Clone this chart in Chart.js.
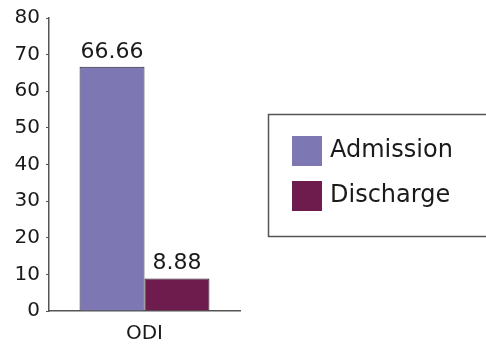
<!DOCTYPE html>
<html>
<head>
<meta charset="utf-8">
<script src="https://cdn.jsdelivr.net/npm/chart.js@4/dist/chart.umd.min.js"></script>
<style>
  html, body { margin: 0; padding: 0; background: #fff; }
  #wrap { width: 486px; height: 346px; }
</style>
</head>
<body>
<div id="wrap"><canvas id="odiChart"></canvas></div>
<script>
// ODI scores at admission and discharge
const categories = ['ODI'];
const seriesNames = ['Admission', 'Discharge'];
const admission = [66.66];
const discharge = [8.88];
const yTicks = [0, 10, 20, 30, 40, 50, 60, 70, 80];

const colors = ['#7d77b4', '#6e1b4d'];
const FONT = "'DejaVu Sans', sans-serif";
const TEXT = '#1a1a1a';

// value labels above each bar
const valueLabels = {
    id: 'valueLabels',
    afterDatasetsDraw(chart) {
        const ctx = chart.ctx;
        ctx.save();
        ctx.font = '22px ' + FONT;
        ctx.fillStyle = TEXT;
        ctx.textAlign = 'center';
        ctx.textBaseline = 'alphabetic';
        chart.data.datasets.forEach((ds, i) => {
            chart.getDatasetMeta(i).data.forEach((bar, j) => {
                ctx.fillText(ds.data[j].toFixed(2), bar.x, bar.y - 9);
            });
        });
        ctx.restore();
    }
};

// boxed legend on the right
const boxLegend = {
    id: 'boxLegend',
    afterDraw(chart) {
        const ctx = chart.ctx;
        ctx.save();
        ctx.strokeStyle = '#555';
        ctx.lineWidth = 1.5;
        ctx.strokeRect(268.5, 114.5, 230, 122);
        ctx.font = '24px ' + FONT;
        ctx.textBaseline = 'middle';
        chart.data.datasets.forEach((ds, i) => {
            const y = 136 + i * 45;
            ctx.fillStyle = ds.backgroundColor;
            ctx.fillRect(292, y, 30, 30);
            ctx.fillStyle = TEXT;
            ctx.fillText(ds.label, 330, y + 15);
        });
        ctx.restore();
    }
};

new Chart(document.getElementById('odiChart'), {
    type: 'bar',
    data: {
        labels: categories,
        datasets: [
            { label: seriesNames[0], data: admission, backgroundColor: colors[0] },
            { label: seriesNames[1], data: discharge, backgroundColor: colors[1] }
        ]
    },
    options: {
        responsive: true,
        maintainAspectRatio: false,
        animation: false,
        layout: { padding: { top: 18, right: 246, bottom: 0, left: 0 } },
        datasets: {
            bar: {
                barPercentage: 1,
                categoryPercentage: 0.68,
                borderWidth: 1,
                borderColor: '#2a2228'
            }
        },
        plugins: {
            legend: { display: false },
            tooltip: { enabled: false }
        },
        scales: {
            x: {
                grid: { display: false, drawTicks: false },
                border: { color: '#555', width: 1.5 },
                ticks: { color: TEXT, font: { family: FONT, size: 20 }, padding: 11 },
                afterFit(scale) { scale.height = 35; }
            },
            y: {
                min: 0,
                max: 80,
                afterBuildTicks(scale) { scale.ticks = yTicks.map(v => ({ value: v })); },
                grid: { drawOnChartArea: false, tickLength: 3, color: '#555' },
                border: { color: '#555', width: 1.5 },
                ticks: { color: TEXT, font: { family: FONT, size: 20 }, padding: 6 },
                afterFit(scale) { scale.width = 49; }
            }
        }
    },
    plugins: [valueLabels, boxLegend]
});
</script>
</body>
</html>
